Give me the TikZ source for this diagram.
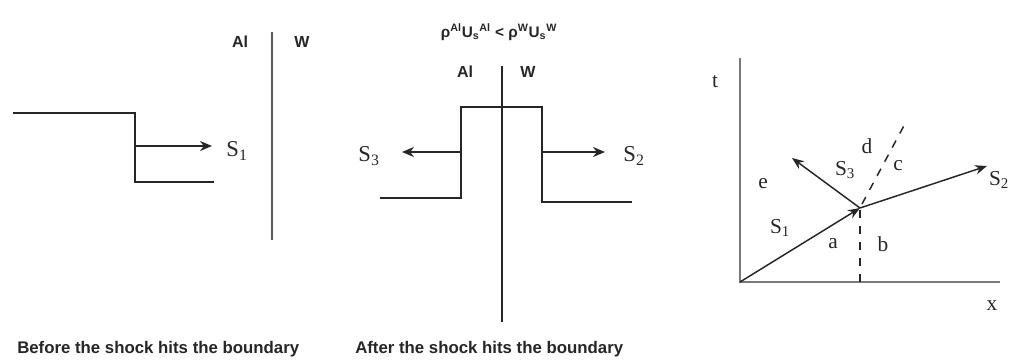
\documentclass[tikz,border=0pt]{standalone}
\usepackage{fontspec}
\setmainfont{Liberation Serif}
\setsansfont{Liberation Sans}
\definecolor{ink}{HTML}{262626}
\definecolor{wall}{HTML}{5A5A5A}
\definecolor{axisc}{HTML}{7A7A7A}
\usetikzlibrary{arrows.meta}

\begin{document}
\begin{tikzpicture}[x=0.75pt, y=-0.75pt,
  prof/.style={draw=ink, line width=1.5pt},
  shk/.style={draw=ink, line width=1.5pt, -{Stealth[length=9pt, width=7.5pt]}},
  xtl/.style={draw=ink, line width=1.1pt, -{Stealth[length=9pt, width=7pt]}},
  wline/.style={draw=wall, line width=1.8pt},
  ax/.style={draw=axisc, line width=1.8pt},
  mat/.style={font=\fontsize{12}{14}\sffamily\bfseries, text=ink, inner sep=1pt},
  slbl/.style={font=\fontsize{17}{20}\selectfont, text=ink, inner sep=1pt},
  rgn/.style={font=\fontsize{16}{18}\selectfont, text=ink, inner sep=1pt},
  capt/.style={font=\fontsize{12.6}{14}\sffamily\bfseries, text=ink, anchor=west, inner sep=0pt},
]
\useasboundingbox (0,0) rectangle (1033,362);

% before the shock hits the boundary
\coordinate (p1a) at (13,113);
\coordinate (p1b) at (135,113);
\coordinate (p1c) at (135,182);
\coordinate (p1d) at (214,182);
\draw[prof] (p1a) -- (p1b) -- (p1c) -- (p1d);
\coordinate (s1o) at (135,146);
\coordinate (s1e) at (212,146);
\draw[shk] (s1o) -- (s1e);
\node[slbl] (s1) at (237,151) {S\textsubscript{1}};
\coordinate (w1t) at (272,32);
\coordinate (w1b) at (272,240);
\draw[wline] (w1t) -- (w1b);
\node[mat] (al1) at (240,42) {Al};
\node[mat] (w1) at (302,42) {W};
\node[capt] (cap1) at (17,349) {Before the shock hits the boundary};

% after the shock hits the boundary
\node[mat, font=\fontsize{11.5}{13}\sffamily\bfseries] (cond) at (499,32)
  {ρ\textsuperscript{Al}U\textsubscript{s}\textsuperscript{Al} < ρ\textsuperscript{W}U\textsubscript{s}\textsuperscript{W}};
\node[mat] (al2) at (465,72) {Al};
\node[mat] (w2) at (528,72) {W};
\coordinate (w2t) at (502,66);
\coordinate (w2b) at (502,322);
\draw[prof] (w2t) -- (w2b);
\coordinate (p2a) at (380,198);
\coordinate (p2b) at (461,198);
\coordinate (p2c) at (461,107);
\coordinate (p2d) at (542,107);
\coordinate (p2e) at (542,202);
\coordinate (p2f) at (632,202);
\draw[prof] (p2a) -- (p2b) -- (p2c) -- (p2d) -- (p2e) -- (p2f);
\coordinate (s3o) at (461,152);
\coordinate (s3e) at (402,152);
\coordinate (s2o) at (542,152);
\coordinate (s2e) at (605,152);
\draw[shk] (s3o) -- (s3e);
\draw[shk] (s2o) -- (s2e);
\node[slbl] (s3) at (369,156) {S\textsubscript{3}};
\node[slbl] (s2) at (634,156) {S\textsubscript{2}};
\node[capt] (cap2) at (355,349) {After the shock hits the boundary};

% x-t diagram
\coordinate (o) at (740,282);
\coordinate (tt) at (740,58);
\coordinate (xx) at (1000,282);
\draw[ax] (tt) -- (o) -- (xx);
\node[rgn] (tl) at (715,82) {t};
\node[rgn] (xl) at (992,306) {x};
\coordinate (j) at (860,208);
\coordinate (j2) at (987,166);
\coordinate (j3) at (792,158);
\coordinate (jb) at (860,282);
\coordinate (jc) at (907,120);
\coordinate (jd) at (862,204);
\draw[xtl] (o) -- (j);
\draw[xtl] (j) -- (j2);
\draw[xtl] (j) -- (j3);
\draw[draw=ink, line width=1.1pt, dash pattern=on 6pt off 6pt] (jb) -- (j);
\draw[draw=ink, line width=1.1pt, dash pattern=on 6pt off 6pt] (jd) -- (jc);
\node[slbl, font=\fontsize{16}{18}\selectfont] (t1) at (780,228) {S\textsubscript{1}};
\node[slbl, font=\fontsize{16}{18}\selectfont] (t3) at (845,170) {S\textsubscript{3}};
\node[slbl, font=\fontsize{16}{18}\selectfont] (t2) at (999,180) {S\textsubscript{2}};
\node[rgn] (re) at (763,184) {e};
\node[rgn] (ra) at (833,244) {a};
\node[rgn] (rb) at (883,244) {b};
\node[rgn] (rd) at (867,146) {d};
\node[rgn] (rc) at (898,166) {c};
\end{tikzpicture}
\end{document}
